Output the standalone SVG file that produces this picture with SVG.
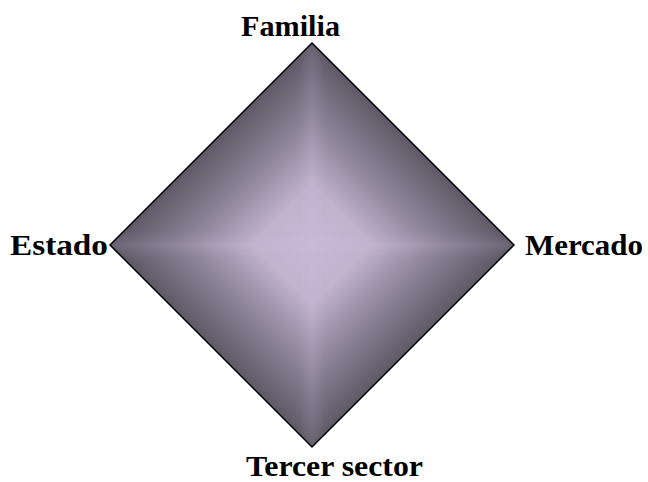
<svg xmlns="http://www.w3.org/2000/svg" width="648" height="482" viewBox="0 0 648 482">
  <style>
    .lbl { font-family: "Liberation Serif", "Times New Roman", serif; font-weight: bold; font-size: 29px; fill: #000; }
  </style>
  <defs>
    <linearGradient id="gUR" gradientUnits="userSpaceOnUse" x1="312" y1="245" x2="413" y2="144">
      <stop offset="0" stop-color="#c9bad7"/>
      <stop offset="0.3" stop-color="#c1b2ce"/>
      <stop offset="0.65" stop-color="#8b8396"/>
      <stop offset="1" stop-color="#5e5967"/>
    </linearGradient>
    <linearGradient id="gUL" href="#gUR" x1="312" y1="245" x2="211" y2="144"/>
    <linearGradient id="gLR" href="#gUR" x1="312" y1="245" x2="413" y2="346"/>
    <linearGradient id="gLL" href="#gUR" x1="312" y1="245" x2="211" y2="346"/>
    <clipPath id="clipD">
      <polygon points="312,43 514,245 312,447 110,245"/>
    </clipPath>
    <filter id="blur" x="-50%" y="-50%" width="200%" height="200%">
      <feGaussianBlur stdDeviation="6"/>
    </filter>
  </defs>

  <g id="diamond">
    <polygon points="312,245 312,43 514,245" fill="url(#gUR)"/>
    <polygon points="312,245 312,43 110,245" fill="url(#gUL)"/>
    <polygon points="312,245 514,245 312,447" fill="url(#gLR)"/>
    <polygon points="312,245 110,245 312,447" fill="url(#gLL)"/>
    <g clip-path="url(#clipD)" filter="url(#blur)" opacity="0.15">
      <line x1="312" y1="43" x2="312" y2="447" stroke="#cbbcd9" stroke-width="12"/>
      <line x1="110" y1="245" x2="514" y2="245" stroke="#cbbcd9" stroke-width="12"/>
    </g>
    <polygon points="312,43 514,245 312,447 110,245" fill="none" stroke="#000" stroke-width="1.5" stroke-linejoin="miter"/>
  </g>

  <g id="familia">
    <text class="lbl" x="241" y="36" textLength="99" lengthAdjust="spacingAndGlyphs">Familia</text>
  </g>
  <g id="estado">
    <text class="lbl" x="10" y="255" textLength="98" lengthAdjust="spacingAndGlyphs">Estado</text>
  </g>
  <g id="mercado">
    <text class="lbl" x="525" y="255" textLength="118" lengthAdjust="spacingAndGlyphs">Mercado</text>
  </g>
  <g id="tercer-sector">
    <text class="lbl" x="246" y="476" textLength="177" lengthAdjust="spacingAndGlyphs">Tercer sector</text>
  </g>
</svg>
